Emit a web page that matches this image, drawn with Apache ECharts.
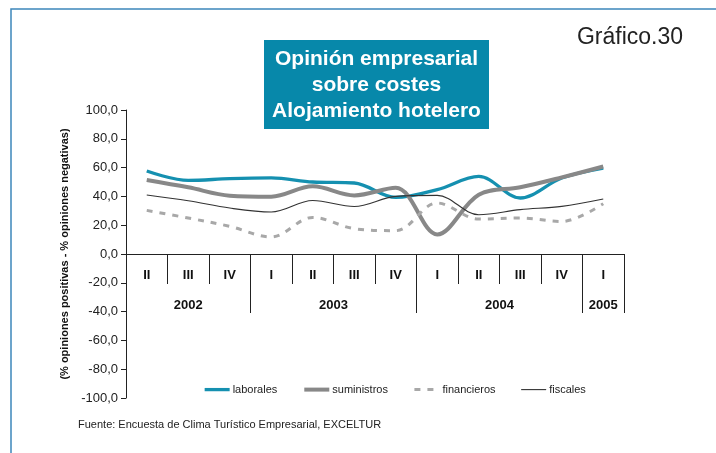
<!DOCTYPE html>
<html>
<head>
<meta charset="utf-8">
<script src="https://cdn.jsdelivr.net/npm/echarts@6/dist/echarts.min.js"></script>
<style>
html,body{margin:0;padding:0;background:#fff;}
#chart{width:716px;height:453px;}
</style>
</head>
<body>
<div id="chart"></div>
<script>
// ---- data ----
const quarters = ['II','III','IV','I','II','III','IV','I','II','III','IV','I'];
const years = ['2002','2003','2004','2005'];
const yearQuarterCounts = [3,4,4,1];
const laborales   = [57.6, 51.1, 52.3, 52.8, 50.0, 49.3, 39.3, 44.7, 53.9, 38.9, 52.8, 59.7];
const suministros = [51.4, 46.3, 40.5, 39.8, 47.0, 40.7, 46.0, 13.6, 41.2, 46.3, 53.2, 60.8];
const financieros = [30.3, 25.0, 19.2, 11.8, 25.4, 17.6, 16.2, 35.4, 24.3, 25.0, 22.6, 34.9];
const fiscales    = [41.0, 37.0, 31.9, 29.2, 37.2, 33.0, 40.0, 40.7, 27.3, 30.8, 33.1, 38.2];
const seriesNames = ['laborales','suministros','financieros','fiscales'];
const yTicks = {min: -100, max: 100, step: 20};
const titleText = 'Opinión empresarial\nsobre costes\nAlojamiento hotelero';
const yAxisTitle = '(% opiniones positivas - % opiniones negativas)';
const sourceText = 'Fuente: Encuesta de Clima Turístico Empresarial, EXCELTUR';
const chartNumber = 'Gráfico.30';

// ---- layout ----
const gridTop = 110, gridHeight = 288;
// offset that puts the category axis on the value 0
const zeroOffset = -gridHeight * (0 - yTicks.min) / (yTicks.max - yTicks.min);

// ---- year axis helper (half-quarter positions) ----
const nHalf = quarters.length * 2;
const yearAxisCats = [];
for (let i = 0; i <= nHalf; i++) yearAxisCats.push('p' + i);
const yearLabelAt = {};
const yearTickAt = new Set();
let s = 0;
years.forEach((y, k) => {
  const c = yearQuarterCounts[k];
  yearTickAt.add(2 * s);
  yearLabelAt[2 * s + c] = y;
  s += c;
});
yearTickAt.add(2 * s);

const chart = echarts.init(document.getElementById('chart'), null, {renderer: 'canvas'});
const axisColor = '#222';
const option = {
  backgroundColor: '#fff',
  animation: false,
  grid: {left: 126, top: gridTop, width: 498, height: gridHeight, containLabel: false},
  legend: {
    left: 203, top: 384, itemWidth: 25, itemHeight: 14, itemGap: 25, padding: 0,
    itemStyle: {opacity: 0},
    lineStyle: {width: 'inherit'},
    textStyle: {fontFamily: 'Liberation Sans', fontSize: 11, color: '#222', padding: [0,0,0,-2]},
    data: seriesNames
  },
  xAxis: [
    {
      type: 'category', data: quarters, position: 'bottom', offset: zeroOffset, boundaryGap: true,
      axisLine: {onZero: false, lineStyle: {color: axisColor, width: 1}},
      axisTick: {show: true, length: 30, interval: 0, alignWithLabel: false, lineStyle: {color: axisColor}},
      axisLabel: {interval: 0, margin: 15, fontFamily: 'Liberation Sans', fontWeight: 'bold', fontSize: 13, color: '#111'},
      splitLine: {show: false}
    },
    {
      type: 'category', data: yearAxisCats, position: 'bottom', offset: zeroOffset, boundaryGap: false,
      axisLine: {show: false, onZero: false},
      axisTick: {show: true, length: 59, interval: (i) => yearTickAt.has(i), lineStyle: {color: axisColor}},
      axisLabel: {interval: 0, margin: 45, fontFamily: 'Liberation Sans', fontWeight: 'bold', fontSize: 13, color: '#111',
        formatter: (v, i) => yearLabelAt[i] || ''},
      splitLine: {show: false}
    }
  ],
  yAxis: {
    type: 'value', min: yTicks.min, max: yTicks.max, interval: yTicks.step,
    name: yAxisTitle, nameLocation: 'middle', nameRotate: 90, nameGap: 50,
    nameTextStyle: {fontFamily: 'Liberation Sans', fontWeight: 'bold', fontSize: 11, color: '#111'},
    axisLine: {show: true, lineStyle: {color: axisColor}},
    axisTick: {show: true, length: 5, lineStyle: {color: axisColor}},
    axisLabel: {margin: 8, fontFamily: 'Liberation Sans', fontSize: 13, color: '#222',
      formatter: v => v.toFixed(1).replace('.', ',')},
    splitLine: {show: false}
  },
  series: [
    {name: seriesNames[0], type: 'line', data: laborales, smooth: 0.35, symbol: 'none',
      lineStyle: {color: '#1590b0', width: 3.3}, itemStyle: {color: '#1590b0'}},
    {name: seriesNames[1], type: 'line', data: suministros, smooth: 0.35, symbol: 'none',
      lineStyle: {color: '#888888', width: 4}, itemStyle: {color: '#888888'}},
    {name: seriesNames[2], type: 'line', data: financieros, smooth: 0.35, symbol: 'none',
      lineStyle: {color: '#a8a8a8', width: 3, type: [6, 7]}, itemStyle: {color: '#a8a8a8'}},
    {name: seriesNames[3], type: 'line', data: fiscales, smooth: 0.35, symbol: 'none',
      lineStyle: {color: '#333333', width: 1.1}, itemStyle: {color: '#333333'}}
  ],
  graphic: [
    {type: 'rect', shape: {x: 11, y: 9, width: 730, height: 470}, silent: true,
      style: {fill: 'none', stroke: '#3d87bb', lineWidth: 1.5}},
    {type: 'rect', shape: {x: 264, y: 40, width: 225, height: 89}, style: {fill: '#0788aa'}},
    {type: 'text', x: 376.5, y: 85, style: {text: titleText, fill: '#fff', align: 'center', verticalAlign: 'middle',
      font: 'bold 21px "Liberation Sans"', lineHeight: 26}},
    {type: 'text', x: 683, y: 38, style: {text: chartNumber, fill: '#222', align: 'right', verticalAlign: 'middle',
      font: '23px "Liberation Sans"'}},
    {type: 'text', x: 78, y: 425, style: {text: sourceText, fill: '#222', align: 'left', verticalAlign: 'middle',
      font: '11px "Liberation Sans"'}}
  ]
};
chart.setOption(option);
</script>
</body>
</html>
